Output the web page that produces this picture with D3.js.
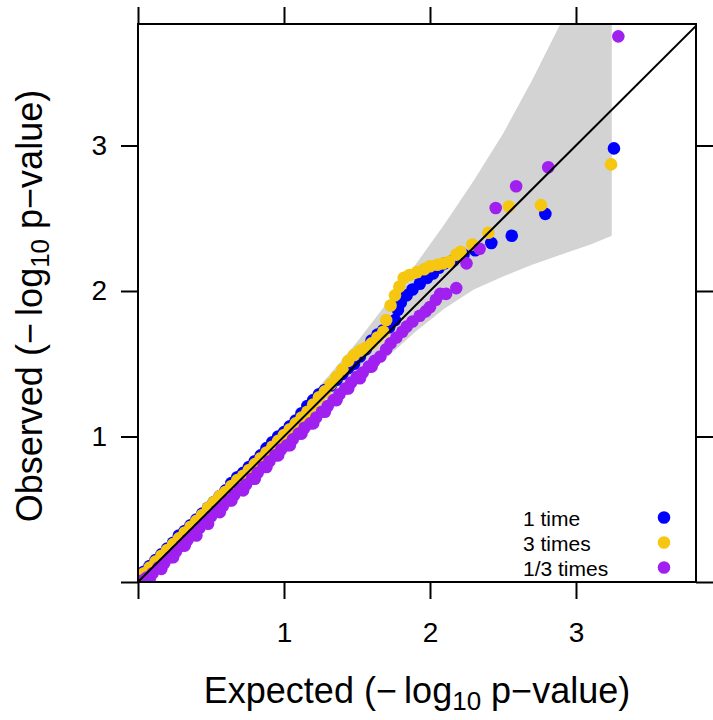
<!DOCTYPE html>
<html>
<head>
<meta charset="utf-8">
<script src="https://cdn.jsdelivr.net/npm/d3@7"></script>
<style>
body{margin:0;background:#fff;}
svg{display:block;font-family:"Liberation Sans",Arial,sans-serif;}
</style>
</head>
<body>
<svg id="chart" width="713" height="720"></svg>
<script>
// ---- data ----
const seriesNames = ["1 time", "3 times", "1/3 times"];
const seriesColors = ["#0000FF", "#F5C710", "#A020F0"];
const tickValues = [0, 1, 2, 3];
const tickLabels = ["", "1", "2", "3"];

// confidence band: expected, lower, upper
const bandX     = [0.00, 0.25, 0.50, 0.75, 1.00, 1.30, 1.50, 1.70, 1.90, 2.10, 2.30, 2.50, 2.70, 2.90, 3.10, 3.245];
const bandLower = [0.00, 0.23, 0.47, 0.71, 0.95, 1.22, 1.38, 1.54, 1.72, 1.88, 2.01, 2.10, 2.18, 2.25, 2.32, 2.38];
const bandUpper = [0.03, 0.28, 0.54, 0.80, 1.07, 1.41, 1.65, 1.91, 2.18, 2.46, 2.76, 3.08, 3.45, 3.85, 4.30, 4.70];

// series 1: "1 time" [expected, observed]
const obs1 = [[0.00,0.02],[0.04,0.07],[0.08,0.11],[0.12,0.15],[0.16,0.19],[0.20,0.23],[0.24,0.27],[0.28,0.32],[0.32,0.35],[0.36,0.39],[0.40,0.43],[0.44,0.47],[0.48,0.51],[0.52,0.55],[0.56,0.59],[0.60,0.63],[0.64,0.68],[0.68,0.72],[0.72,0.75],[0.76,0.79],[0.80,0.83],[0.84,0.87],[0.88,0.92],[0.92,0.96],[0.96,1.00],[1.00,1.03],[1.04,1.07],[1.08,1.11],[1.12,1.16],[1.16,1.21],[1.20,1.25],[1.24,1.29],[1.28,1.32],[1.32,1.35],[1.36,1.39],[1.40,1.43],[1.44,1.47],[1.48,1.50],[1.52,1.55],[1.56,1.60],[1.60,1.66],[1.64,1.70],[1.68,1.73],[1.72,1.75],[1.76,1.80],[1.78,1.87],[1.80,1.92],[1.84,1.97],[1.88,2.01],[1.93,2.05],[1.98,2.09],[2.02,2.12],[2.06,2.16],[2.10,2.19],[2.16,2.21],[2.23,2.25],[2.31,2.28],[2.42,2.33],[2.56,2.38],[2.79,2.53],[3.26,2.98]];

// series 2: "3 times"
const obs3 = [[0.00,0.01],[0.04,0.06],[0.08,0.10],[0.12,0.14],[0.16,0.18],[0.20,0.22],[0.24,0.26],[0.28,0.30],[0.32,0.34],[0.36,0.38],[0.40,0.42],[0.44,0.46],[0.48,0.51],[0.52,0.55],[0.56,0.59],[0.60,0.62],[0.64,0.66],[0.68,0.70],[0.72,0.73],[0.76,0.77],[0.80,0.81],[0.84,0.85],[0.88,0.89],[0.92,0.93],[0.96,0.97],[1.00,1.01],[1.04,1.05],[1.08,1.09],[1.12,1.13],[1.16,1.17],[1.20,1.22],[1.24,1.27],[1.28,1.31],[1.32,1.36],[1.36,1.41],[1.40,1.46],[1.44,1.52],[1.48,1.56],[1.52,1.59],[1.56,1.61],[1.60,1.64],[1.64,1.68],[1.68,1.72],[1.70,1.80],[1.73,1.90],[1.76,1.97],[1.79,2.03],[1.82,2.09],[1.86,2.11],[1.91,2.13],[1.96,2.15],[2.00,2.17],[2.05,2.18],[2.09,2.19],[2.13,2.20],[2.18,2.25],[2.21,2.27],[2.29,2.32],[2.40,2.40],[2.54,2.58],[2.76,2.59],[3.24,2.87]];

// series 3: "1/3 times"
const obs13 = [[0.00,0.00],[0.03,0.01],[0.06,0.03],[0.10,0.06],[0.14,0.10],[0.18,0.13],[0.22,0.17],[0.26,0.21],[0.30,0.25],[0.34,0.29],[0.38,0.33],[0.42,0.37],[0.46,0.41],[0.50,0.45],[0.54,0.49],[0.58,0.52],[0.62,0.56],[0.66,0.60],[0.70,0.64],[0.74,0.67],[0.78,0.71],[0.82,0.75],[0.86,0.79],[0.90,0.83],[0.94,0.87],[0.98,0.91],[1.02,0.94],[1.06,0.98],[1.10,1.02],[1.14,1.06],[1.18,1.09],[1.22,1.13],[1.26,1.17],[1.30,1.21],[1.34,1.25],[1.38,1.29],[1.42,1.33],[1.46,1.37],[1.50,1.41],[1.54,1.44],[1.58,1.48],[1.62,1.52],[1.66,1.55],[1.70,1.60],[1.73,1.64],[1.77,1.68],[1.81,1.72],[1.84,1.755],[1.88,1.79],[1.93,1.83],[1.97,1.86],[2.00,1.89],[2.04,1.94],[2.07,1.98],[2.11,1.98],[2.18,2.02],[2.25,2.19],[2.34,2.29],[2.45,2.57],[2.59,2.72],[2.81,2.85],[3.29,3.75],
  [0.08,0.02],[0.16,0.09],[0.24,0.17],[0.32,0.25],[0.40,0.32],[0.48,0.40],[0.56,0.48],[0.64,0.56],[0.72,0.63],[0.80,0.71],[0.88,0.79],[0.96,0.87],[1.04,0.94],[1.12,1.02],[1.20,1.09],[1.28,1.17],[1.36,1.25],[1.44,1.33],[1.52,1.40],[1.60,1.48]];

const allSeries = [obs1, obs3, obs13];

// ---- layout ----
const pL = 138, pR = 696, pT = 24, pB = 582;
const svg = d3.select("#chart");
const x = d3.scaleLinear().domain([0, 3.822]).range([pL, pR]);
const y = d3.scaleLinear().domain([0, 3.835]).range([pB, pT]);

svg.append("defs").append("clipPath").attr("id","clip")
  .append("rect").attr("x",pL).attr("y",pT).attr("width",pR-pL).attr("height",pB-pT);

const plot = svg.append("g").attr("clip-path","url(#clip)");

// band
const bandData = bandX.map((v,i)=>({x:v, lo:bandLower[i], hi:bandUpper[i]}));
plot.append("path")
  .datum(bandData)
  .attr("fill","#D3D3D3")
  .attr("d", d3.area().x(d=>x(d.x)).y0(d=>y(d.lo)).y1(d=>y(d.hi)));

// points
allSeries.forEach((s,i)=>{
  plot.append("g").selectAll("circle").data(s).join("circle")
    .attr("cx", d=>x(d[0])).attr("cy", d=>y(d[1])).attr("r", 6.3)
    .attr("fill", seriesColors[i]);
});

// diagonal
plot.append("line")
  .attr("x1", x(0)).attr("y1", y(0)).attr("x2", x(3.83)).attr("y2", y(3.83))
  .attr("stroke","#000").attr("stroke-width",2);

// axes
const fmt = d=>tickLabels[tickValues.indexOf(d)];
function styleAxis(g){
  g.select(".domain").remove();
  g.selectAll(".tick line").attr("stroke","#000").attr("stroke-width",2);
  g.selectAll(".tick text").attr("fill","#000").style("font-size","28px").style("font-family","'Liberation Sans',Arial,sans-serif");
}
svg.append("g").attr("transform",`translate(0,${pB})`)
  .call(d3.axisBottom(x).tickValues(tickValues).tickFormat(fmt).tickSize(17).tickPadding(23))
  .call(styleAxis);
svg.append("g").attr("transform",`translate(${pL},0)`)
  .call(d3.axisLeft(y).tickValues(tickValues).tickFormat(fmt).tickSize(17).tickPadding(14))
  .call(styleAxis);
svg.append("g").attr("transform",`translate(0,${pT})`)
  .call(d3.axisTop(x).tickValues(tickValues).tickFormat("").tickSize(17))
  .call(styleAxis);
svg.append("g").attr("transform",`translate(${pR},0)`)
  .call(d3.axisRight(y).tickValues(tickValues).tickFormat("").tickSize(17))
  .call(styleAxis);

// frame
svg.append("rect").attr("x",pL).attr("y",pT).attr("width",pR-pL).attr("height",pB-pT)
  .attr("fill","none").attr("stroke","#000").attr("stroke-width",2);

// legend
const legend = svg.append("g");
seriesNames.forEach((n,i)=>{
  legend.append("text").attr("x",523).attr("y",525.5 + i*25)
    .style("font-size","21px").attr("fill","#000").text(n);
  legend.append("circle").attr("cx",664).attr("cy",517.5 + i*25).attr("r",6.3).attr("fill",seriesColors[i]);
});

// axis titles
const xt = svg.append("text").attr("x",(pL+pR)/2).attr("y",703)
  .attr("text-anchor","middle").style("font-size","36px").attr("fill","#000");
xt.append("tspan").text("Expected (\u2212\u2009log");
xt.append("tspan").attr("dy",7).style("font-size","26px").text("10");
xt.append("tspan").attr("dy",-7).text(" p\u2212value)");

const yt = svg.append("text").attr("transform",`translate(42,${(pT+pB)/2 + 3}) rotate(-90)`)
  .attr("text-anchor","middle").style("font-size","36px").attr("fill","#000");
yt.append("tspan").text("Observed (\u2212\u2009log");
yt.append("tspan").attr("dy",7).style("font-size","26px").text("10");
yt.append("tspan").attr("dy",-7).text(" p\u2212value)");
</script>
</body>
</html>
